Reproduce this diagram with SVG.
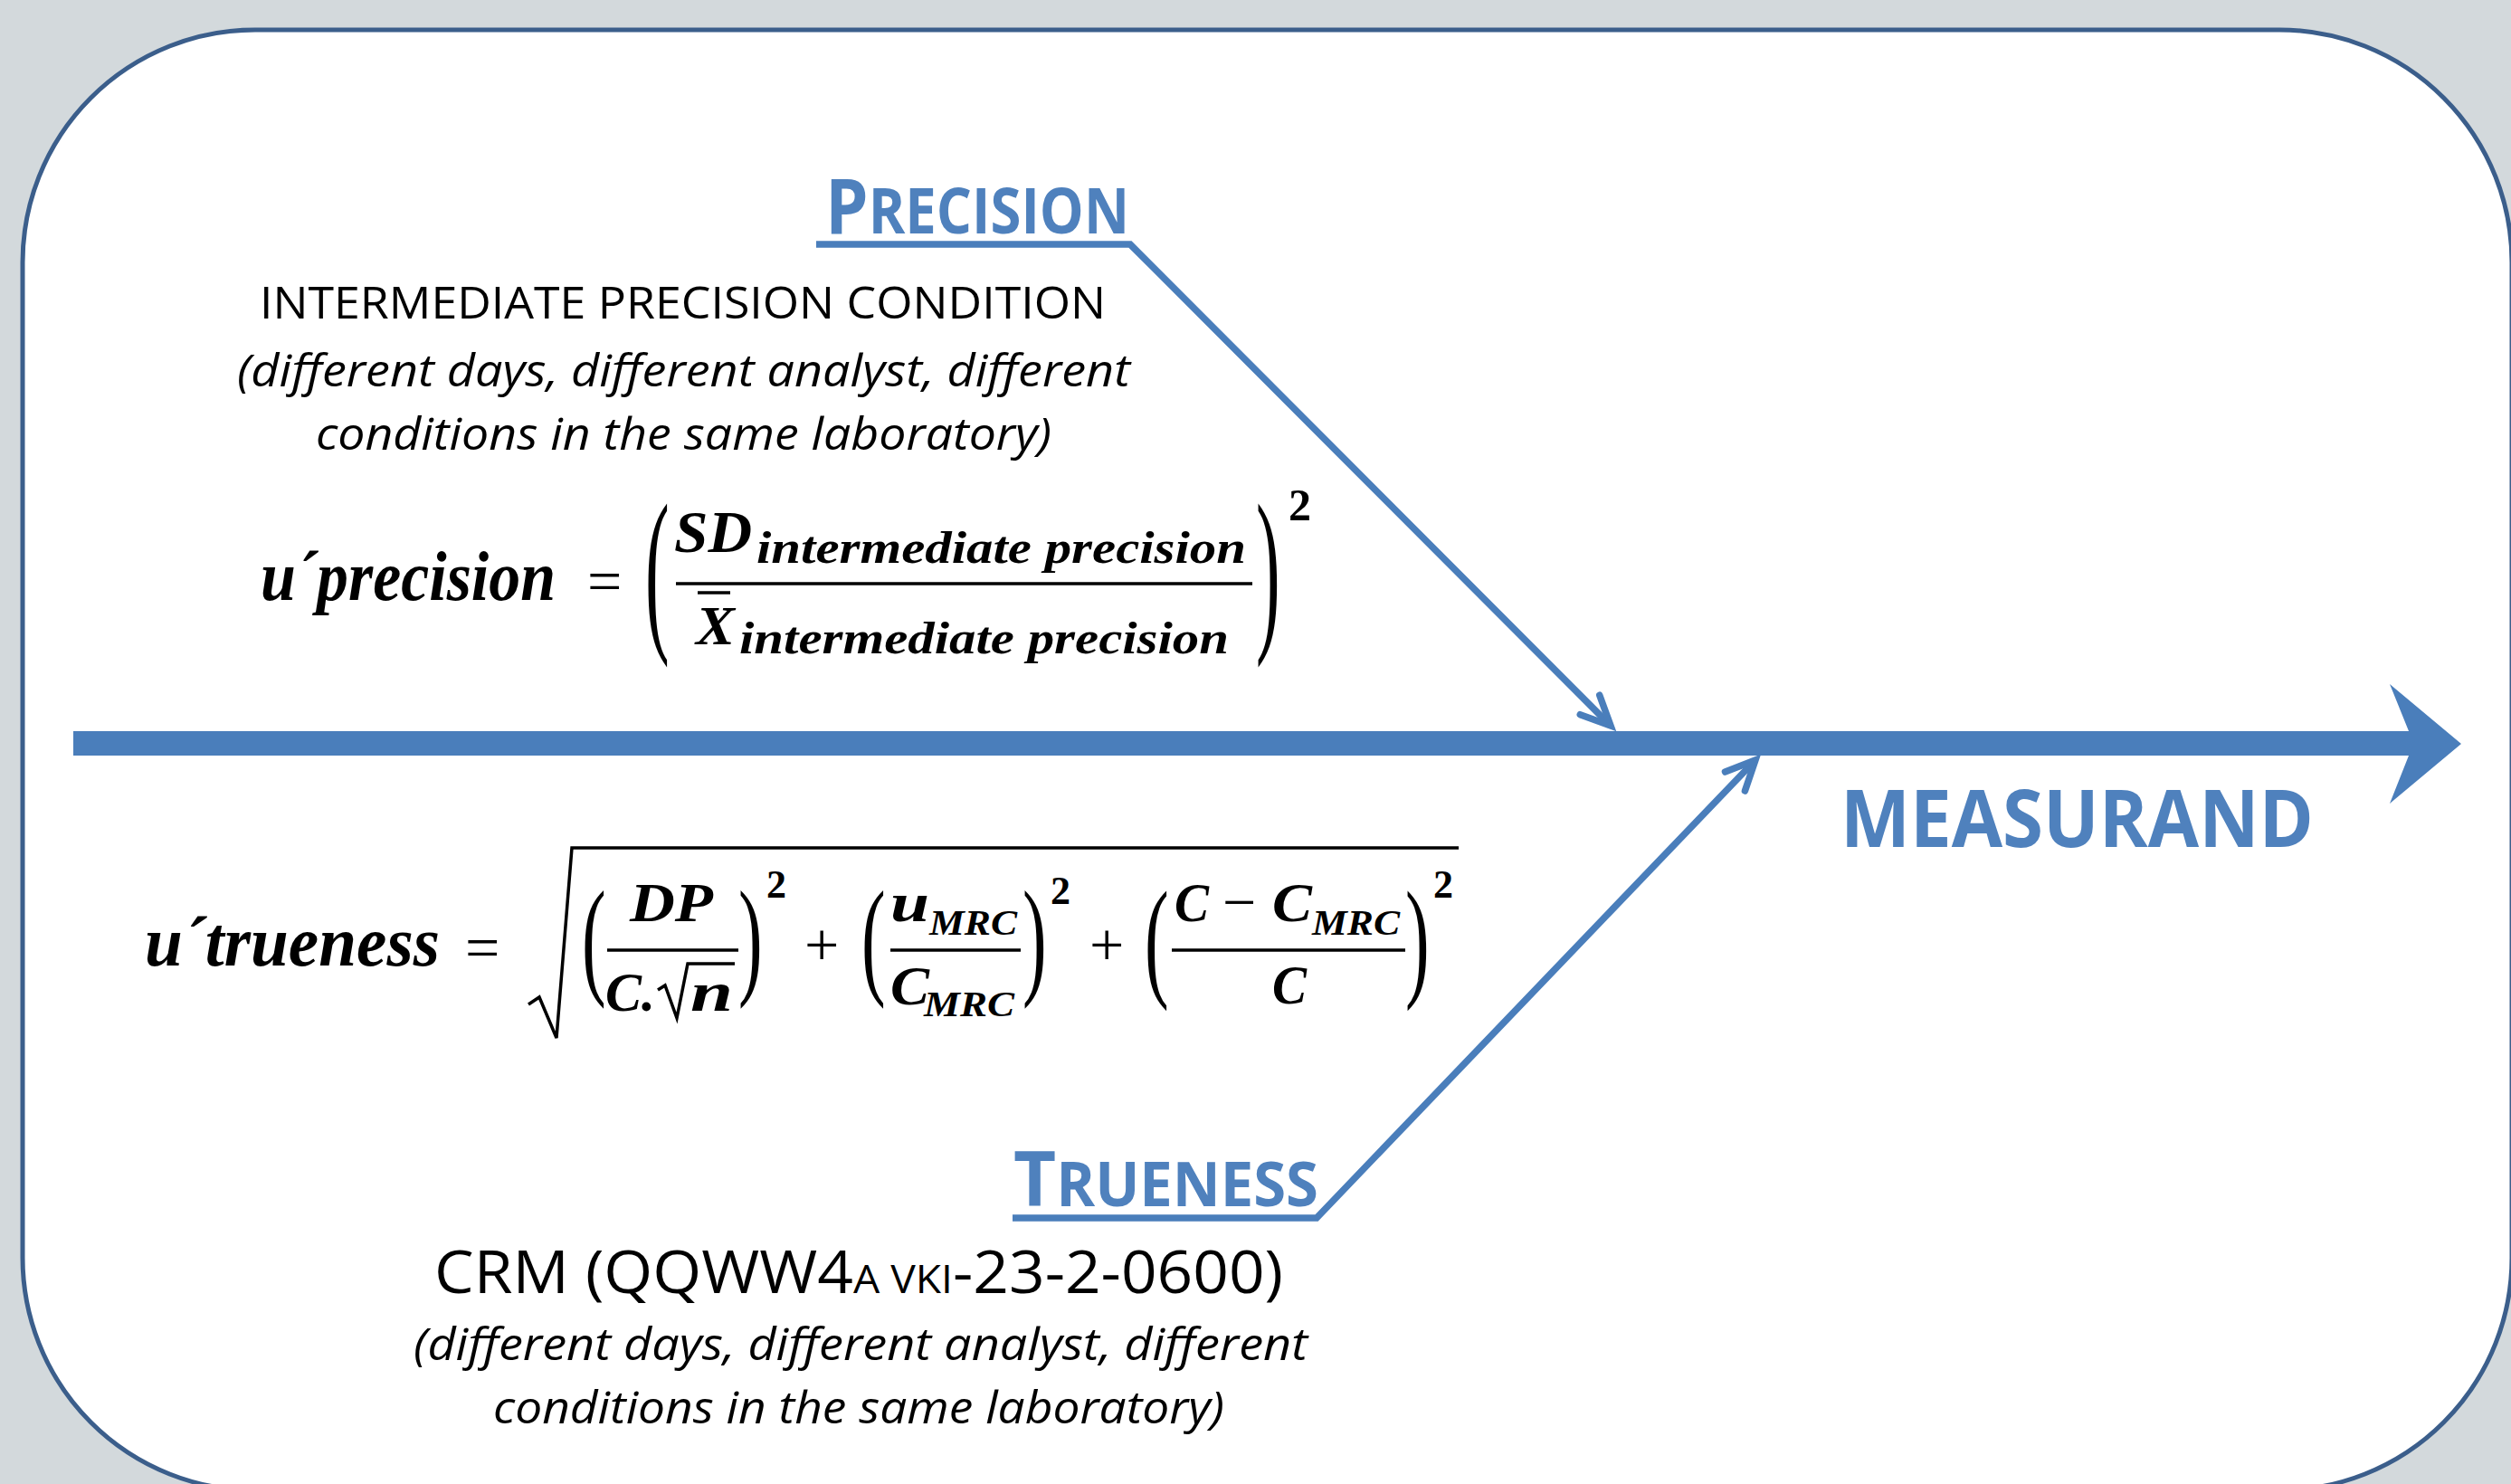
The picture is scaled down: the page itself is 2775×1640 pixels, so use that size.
<svg xmlns="http://www.w3.org/2000/svg" width="2775" height="1640" viewBox="0 0 2775 1640">
<style>
.lbl{font-family:"Open Sans","Liberation Sans",sans-serif;font-weight:700;fill:#4f81bd}
.txt{font-family:"Open Sans","Liberation Sans",sans-serif;fill:#000}
.it{font-family:"Open Sans","Liberation Sans",sans-serif;font-style:italic;fill:#000}
.m{font-family:"Liberation Serif","Times New Roman",serif;font-weight:700;font-style:italic;fill:#000}
.mr{font-family:"Liberation Serif","Times New Roman",serif;font-weight:400;fill:#000}
.mb{font-family:"Liberation Serif","Times New Roman",serif;font-weight:700;fill:#000}
.rule{stroke:#000;stroke-width:3.5;fill:none}
.conn{stroke:#4a7ebb;stroke-width:7.5;fill:none;stroke-linejoin:miter}
</style>
<defs>
<marker id="open" markerUnits="userSpaceOnUse" viewBox="-40 -22 48 44" refX="0" refY="0" markerWidth="48" markerHeight="44" orient="auto" overflow="visible">
<path d="M -32.6 -15.2 L 0 0 L -32.6 15.2" fill="none" stroke="#4a7ebb" stroke-width="7.5" stroke-linecap="round" stroke-linejoin="miter"/>
</marker>
</defs>
<rect x="0" y="0" width="2775" height="1640" fill="#d3d9dc"/>
<rect x="25" y="33" width="2751" height="1614" rx="257" ry="257" fill="#ffffff" stroke="#3b5e8b" stroke-width="5"/>

<g id="connectors">
<polygon id="spine" points="81,808 2662,808 2641,756 2720,822 2641,888 2662,835 81,835" fill="#4a7ebb"/>
<path id="precision-edge" class="conn" d="M 902 270 L 1249 270 L 1780 802" marker-end="url(#open)"/>
<path id="trueness-edge" class="conn" d="M 1119 1346 L 1455 1346 L 1940 840" marker-end="url(#open)"/>
</g>

<g id="measurand">
<text class="lbl" x="2034" y="936" font-size="87" textLength="523" lengthAdjust="spacingAndGlyphs">MEASURAND</text>
</g>

<g id="precision">
<text class="lbl" x="912" y="258" font-size="85" textLength="336" lengthAdjust="spacingAndGlyphs">P<tspan font-size="69">RECISION</tspan></text>
</g>

<g id="precision-condition">
<text class="txt" x="287" y="352" font-size="49" textLength="935" lengthAdjust="spacingAndGlyphs">INTERMEDIATE PRECISION CONDITION</text>
<text class="it" x="262" y="427" font-size="50" textLength="987" lengthAdjust="spacingAndGlyphs">(different days, different analyst, different</text>
<text class="it" x="349" y="497" font-size="50" textLength="813" lengthAdjust="spacingAndGlyphs">conditions in the same laboratory)</text>
</g>

<g id="precision-formula">
<text class="m" x="288" y="663" font-size="78" textLength="326" lengthAdjust="spacingAndGlyphs">u´precision</text>
<text class="mr" x="649" y="665" font-size="68">=</text>
<text class="mr" font-size="80" transform="matrix(1 0 0 2.49 713 694.7)">(</text>
<text class="m" x="745" y="610" font-size="66" textLength="86" lengthAdjust="spacingAndGlyphs">SD</text>
<text class="m" x="836" y="622" font-size="51" textLength="541" lengthAdjust="spacingAndGlyphs">intermediate precision</text>
<line class="rule" x1="747" y1="645" x2="1384" y2="645"/>
<line class="rule" x1="771" y1="655" x2="807" y2="655" stroke-width="3"/>
<text class="m" x="769" y="712" font-size="62" textLength="43" lengthAdjust="spacingAndGlyphs">X</text>
<text class="m" x="817" y="722" font-size="51" textLength="541" lengthAdjust="spacingAndGlyphs">intermediate precision</text>
<text class="mr" font-size="80" transform="matrix(1 0 0 2.49 1388 694.7)">)</text>
<text class="mb" x="1424" y="575" font-size="50">2</text>
</g>

<g id="trueness-formula">
<text class="m" x="160" y="1067" font-size="78" textLength="326" lengthAdjust="spacingAndGlyphs">u´trueness</text>
<text class="mr" x="514" y="1070" font-size="68">=</text>
<polyline class="rule" points="584,1110 596,1102 615,1147 632,937 1612,937"/>
<text class="mr" font-size="80" transform="matrix(1 0 0 1.80 643 1084.3)">(</text>
<text class="m" x="696" y="1018" font-size="62" textLength="92" lengthAdjust="spacingAndGlyphs">DP</text>
<line class="rule" x1="671" y1="1050" x2="816" y2="1050"/>
<text class="m" x="669" y="1117" font-size="62" textLength="55" lengthAdjust="spacingAndGlyphs">C.</text>
<polyline class="rule" points="727,1094 735,1089 748,1125 760,1065 812,1065" stroke-width="3"/>
<text class="m" x="763" y="1117" font-size="62" textLength="47" lengthAdjust="spacingAndGlyphs">n</text>
<text class="mr" font-size="80" transform="matrix(1 0 0 1.80 816 1084.3)">)</text>
<text class="mb" x="847" y="992" font-size="44">2</text>
<text class="mr" x="889" y="1067" font-size="68">+</text>
<text class="mr" font-size="80" transform="matrix(1 0 0 1.80 952 1084.3)">(</text>
<text class="m" x="984" y="1018" font-size="62" textLength="43" lengthAdjust="spacingAndGlyphs">u</text>
<text class="m" x="1027" y="1033" font-size="40" textLength="97" lengthAdjust="spacingAndGlyphs">MRC</text>
<line class="rule" x1="984" y1="1050" x2="1128" y2="1050"/>
<text class="m" x="984" y="1110" font-size="62" textLength="43" lengthAdjust="spacingAndGlyphs">C</text>
<text class="m" x="1021" y="1123" font-size="40" textLength="100" lengthAdjust="spacingAndGlyphs">MRC</text>
<text class="mr" font-size="80" transform="matrix(1 0 0 1.80 1130 1084.3)">)</text>
<text class="mb" x="1161" y="999" font-size="44">2</text>
<text class="mr" x="1204" y="1067" font-size="68">+</text>
<text class="mr" font-size="80" transform="matrix(1 0 0 1.84 1265 1086)">(</text>
<text class="m" x="1298" y="1018" font-size="62" textLength="38" lengthAdjust="spacingAndGlyphs">C</text>
<text class="mr" x="1351" y="1019" font-size="66">−</text>
<text class="m" x="1406" y="1018" font-size="62" textLength="44" lengthAdjust="spacingAndGlyphs">C</text>
<text class="m" x="1450" y="1033" font-size="40" textLength="97" lengthAdjust="spacingAndGlyphs">MRC</text>
<line class="rule" x1="1295" y1="1050" x2="1553" y2="1050"/>
<text class="m" x="1406" y="1109" font-size="62" textLength="38" lengthAdjust="spacingAndGlyphs">C</text>
<text class="mr" font-size="80" transform="matrix(1 0 0 1.84 1553 1086)">)</text>
<text class="mb" x="1584" y="992" font-size="44">2</text>
</g>

<g id="trueness">
<text class="lbl" x="1120" y="1333" font-size="85" textLength="337" lengthAdjust="spacingAndGlyphs">T<tspan font-size="68">RUENESS</tspan></text>
</g>

<g id="trueness-condition">
<text class="txt" x="480" y="1429" font-size="66" textLength="938" lengthAdjust="spacingAndGlyphs">CRM (QQWW4<tspan font-size="44">A VKI</tspan>-23-2-0600)</text>
<text class="it" x="457" y="1503" font-size="50" textLength="988" lengthAdjust="spacingAndGlyphs">(different days, different analyst, different</text>
<text class="it" x="545" y="1573" font-size="50" textLength="808" lengthAdjust="spacingAndGlyphs">conditions in the same laboratory)</text>
</g>
</svg>
